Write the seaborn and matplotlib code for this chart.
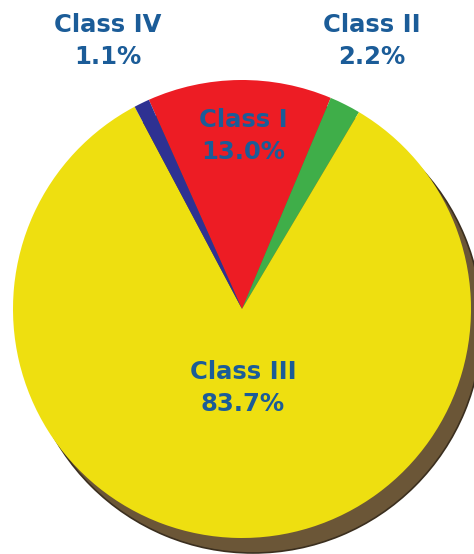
import matplotlib
matplotlib.use("Agg")
import matplotlib.pyplot as plt
import seaborn as sns

# data
classes = ['Class I', 'Class II', 'Class III', 'Class IV']
shares = [13.0, 2.2, 83.7, 1.1]
colors = ['#ED1C24', '#3FAE49', '#EEDF10', '#2E3192']

sns.set_theme(style='white')
plt.rcParams['font.family'] = ['DejaVu Sans']

fig = plt.figure(figsize=(4.74, 5.54), dpi=100)
ax = fig.add_axes([0, 0, 1, 1])

cx, cy, r = 242, 245, 229

# shadow disc
ax.pie([1], colors=['#6B5637'], center=(cx + 11, cy - 15), radius=r,
       wedgeprops=dict(edgecolor='#3b2f1f', linewidth=1.2), frame=True)
# main pie
ax.pie(shares, colors=colors, center=(cx, cy), radius=r, startangle=114,
       counterclock=False, wedgeprops=dict(edgecolor='none'), frame=True)
ax.set_xlim(0, 474)
ax.set_ylim(0, 554)
ax.set_aspect('equal')
ax.axis('off')

txt = dict(color='#1B5C98', fontsize=17.5, fontweight='bold', ha='center',
           va='center', linespacing=1.45)
pos = {'Class I': (243, 554 - 136), 'Class II': (372, 554 - 41),
       'Class III': (243, 554 - 388), 'Class IV': (108, 554 - 41)}
for name, val in zip(classes, shares):
    x, y = pos[name]
    ax.text(x, y, f'{name}\n{val:.1f}%', **txt)

fig.savefig('out.png', dpi=100)
